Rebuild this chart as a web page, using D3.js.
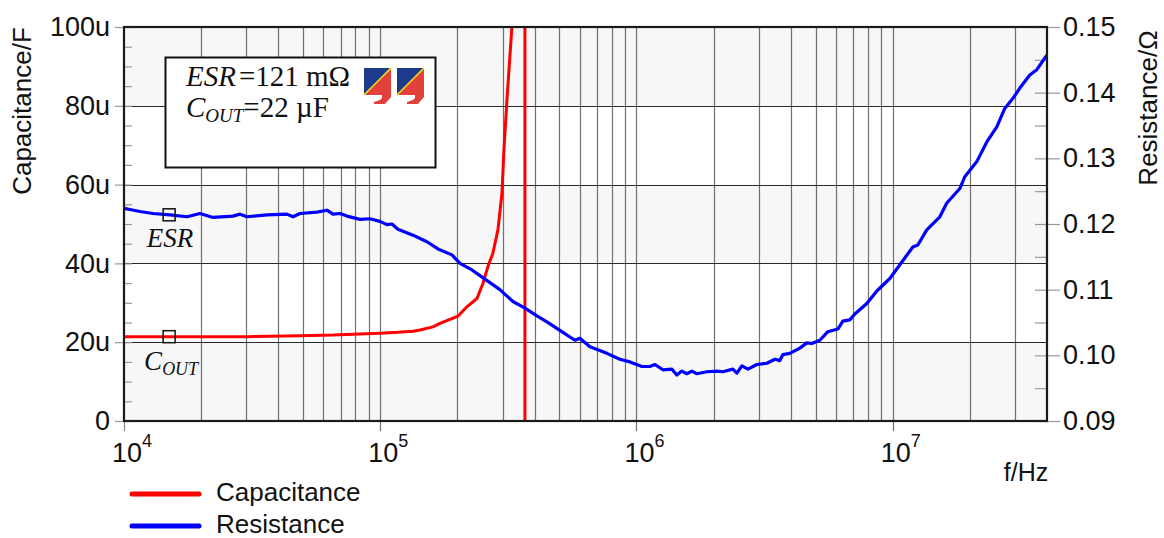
<!DOCTYPE html>
<html><head><meta charset="utf-8">
<script src="https://cdn.jsdelivr.net/npm/d3@7"></script>
<style>
body{margin:0;background:#fff;}
svg text{font-family:"Liberation Sans",Arial,sans-serif;fill:#111;}
</style>
</head><body>
<svg id="chart" width="1164" height="538"></svg>
<script>
// ---- data ----
const resFreq = [1.0e4,1.055e4,1.154e4,1.297e4,1.512e4,1.762e4,1.979e4,2.225e4,2.663e4,2.836e4,3.019e4,3.613e4,4.325e4,4.564e4,4.861e4,5.662e4,6.194e4,6.537e4,6.963e4,7.416e4,8.334e4,9.117e4,9.97e4,1.062e5,1.111e5,1.172e5,1.342e5,1.521e5,1.680e5,1.905e5,2.047e5,2.280e5,2.562e5,2.931e5,3.295e5,3.670e5,4.088e5,4.471e5,5.162e5,5.750e5,6.014e5,6.579e5,7.665e5,8.614e5,9.424e5,1.050e6,1.128e6,1.180e6,1.268e6,1.374e6,1.437e6,1.503e6,1.572e6,1.645e6,1.720e6,1.882e6,2.059e6,2.173e6,2.378e6,2.465e6,2.578e6,2.721e6,2.950e6,3.227e6,3.467e6,3.626e6,3.725e6,3.967e6,4.341e6,4.623e6,4.835e6,5.195e6,5.582e6,6.107e6,6.388e6,6.802e6,7.114e6,7.923e6,8.670e6,9.744e6,1.066e7,1.198e7,1.253e7,1.358e7,1.527e7,1.626e7,1.828e7,1.911e7,2.129e7,2.329e7,2.548e7,2.737e7,2.942e7,3.133e7,3.427e7,3.650e7,3.993e7];
const resValues = [0.1224,0.1222,0.1219,0.1216,0.1214,0.1211,0.1216,0.1210,0.1212,0.1215,0.1211,0.1214,0.1215,0.1211,0.1216,0.1218,0.1221,0.1215,0.1216,0.1212,0.1207,0.1208,0.1204,0.1199,0.1200,0.1192,0.1183,0.1173,0.1162,0.1153,0.1140,0.1130,0.1116,0.1100,0.1082,0.1072,0.1060,0.1051,0.1035,0.1023,0.1026,0.1013,0.1003,0.0994,0.0990,0.0983,0.0983,0.0986,0.0978,0.0979,0.0970,0.0976,0.0972,0.0976,0.0972,0.0975,0.0976,0.0975,0.0979,0.0973,0.0984,0.0979,0.0986,0.0988,0.0994,0.0992,0.1001,0.1003,0.1011,0.1019,0.1018,0.1023,0.1036,0.1040,0.1052,0.1054,0.1063,0.1079,0.1098,0.1117,0.1138,0.1165,0.1168,0.1191,0.1211,0.1232,0.1254,0.1272,0.1295,0.1325,0.1348,0.1376,0.1391,0.1407,0.1427,0.1435,0.1457];

// capacitance in µF; beyond resonance it is off-scale (very large, then negative)
const capFreq = [1.0e4,3.019e4,4.861e4,6.537e4,9.97e4,1.172e5,1.342e5,1.429e5,1.606e5,1.710e5,2.010e5,2.179e5,2.384e5,2.516e5,2.632e5,2.752e5,2.879e5,2.985e5,3.039e5,3.122e5,3.265e5,3.45e5,3.60e5,3.669e5,3.670e5,3.75e5,4.5e5,1.0e6,1.0e7,4.0e7];
const capValues = [21.4,21.4,21.65,21.8,22.3,22.5,22.8,23.1,23.9,24.8,26.6,29.0,31.1,34.9,39.2,42.6,48.5,57.8,68.8,81.5,100.1,200,600,3000,-3000,-900,-150,-30,-23,-22];

const capTicks = [0,20,40,60,80,100];
const capTickLabels = ["0","20u","40u","60u","80u","100u"];
const capMinorTicks = d3.range(0,101,5);
const resTicks = [0.09,0.10,0.11,0.12,0.13,0.14,0.15];
const resTickLabels = ["0.09","0.10","0.11","0.12","0.13","0.14","0.15"];
const resMinorTicks = d3.range(0,13).map(i=>+(0.09+i*0.005).toFixed(3));
const freqDecades = [1e4,1e5,1e6,1e7];
const decadeExp = ["4","5","6","7"];
const markerFreq = 1.5e4;
const markerRes = 0.1214, markerCap = 21.4;

// ---- layout ----
const L=124, R=1047, T=27, B=421;
const svg = d3.select("#chart");
const x = d3.scaleLog().domain([1e4,4e7]).range([L,R]);
const yC = d3.scaleLinear().domain([0,100]).range([B,T]);
const yR = d3.scaleLinear().domain([0.09,0.15]).range([B,T]);

svg.append("defs").append("clipPath").attr("id","clip")
  .append("rect").attr("x",L).attr("y",T).attr("width",R-L).attr("height",B-T);

// background bands
const bands = [[0,20],[40,60],[80,100]];
svg.append("g").selectAll("rect").data(bands).join("rect")
  .attr("x",L).attr("width",R-L)
  .attr("y",d=>yC(d[1])).attr("height",d=>yC(d[0])-yC(d[1]))
  .attr("fill","#f7f7f7");

// vertical grid
const vTicks = x.ticks().filter(v=>v>1e4*1.001 && v<4e7*0.999);
svg.append("g").selectAll("line").data(vTicks).join("line")
  .attr("x1",d=>Math.round(x(d))+0.5).attr("x2",d=>Math.round(x(d))+0.5)
  .attr("y1",T).attr("y2",d=>freqDecades.includes(d)?B+10:B)
  .attr("stroke","#707070").attr("stroke-width",1.2);
// decade tick at left edge
svg.append("line").attr("x1",L+0.5).attr("x2",L+0.5).attr("y1",B).attr("y2",B+10)
  .attr("stroke","#888").attr("stroke-width",1.2);

// horizontal grid
svg.append("g").selectAll("line").data(capTicks.slice(1,-1)).join("line")
  .attr("x1",L).attr("x2",R)
  .attr("y1",d=>Math.round(yC(d))+0.5).attr("y2",d=>Math.round(yC(d))+0.5)
  .attr("stroke","#2a2a2a").attr("stroke-width",1);

// left axis: major (outside) + minor (inside)
const gL = svg.append("g").attr("transform",`translate(${L},0)`)
  .call(d3.axisLeft(yC).tickValues(capTicks).tickSize(9).tickPadding(5)
    .tickFormat((d,i)=>capTickLabels[i]));
const gLm = svg.append("g").attr("transform",`translate(${L},0)`)
  .call(d3.axisRight(yC).tickValues(capMinorTicks).tickSize(8).tickFormat(""));
// right axis
const gR = svg.append("g").attr("transform",`translate(${R},0)`)
  .call(d3.axisRight(yR).tickValues(resTicks).tickSize(13).tickPadding(3)
    .tickFormat((d,i)=>resTickLabels[i]));
const gRm = svg.append("g").attr("transform",`translate(${R},0)`)
  .call(d3.axisLeft(yR).tickValues(resMinorTicks).tickSize(12).tickFormat(""));
[gL,gLm,gR,gRm].forEach(g=>{
  g.select(".domain").remove();
  g.selectAll(".tick line").attr("stroke","#999").attr("stroke-width",1.2);
  g.selectAll("text").style("font-size","27px").attr("fill","#111");
});

// curves
const lineR = d3.line().x((d,i)=>x(resFreq[i])).y(d=>yR(d));
const lineC = d3.line().x((d,i)=>x(capFreq[i])).y(d=>yC(d));
const plot = svg.append("g").attr("clip-path","url(#clip)");
plot.append("path").datum(capValues).attr("d",lineC)
  .attr("fill","none").attr("stroke","#ff0000").attr("stroke-width",3);
plot.append("path").datum(resValues).attr("d",lineR)
  .attr("fill","none").attr("stroke","#0000ff").attr("stroke-width",3.2)
  .attr("stroke-linejoin","round");

// frame
svg.append("rect").attr("x",L).attr("y",T).attr("width",R-L).attr("height",B-T)
  .attr("fill","none").attr("stroke","#1a1a1a").attr("stroke-width",2.2);

// x tick labels
const xl = svg.append("g").selectAll("text").data(freqDecades).join("text")
  .attr("x",d=>x(d)-12).attr("y",462).style("font-size","27px");
xl.append("tspan").text("10");
xl.append("tspan").attr("dy",-15).style("font-size","18px").text((d,i)=>decadeExp[i]);

// axis titles
svg.append("text").attr("transform","translate(31,111) rotate(-90)")
  .attr("text-anchor","middle").style("font-size","26px").text("Capacitance/F");
svg.append("text").attr("transform","translate(1157,108) rotate(-90)")
  .attr("text-anchor","middle").style("font-size","26px").text("Resistance/Ω");
svg.append("text").attr("x",1026).attr("y",481).attr("text-anchor","middle")
  .style("font-size","25px").text("f/Hz");

// markers
const mk = [[markerFreq,yR(markerRes)],[markerFreq,yC(markerCap)]];
svg.append("g").selectAll("rect").data(mk).join("rect")
  .attr("x",d=>x(d[0])-6).attr("y",d=>d[1]-6).attr("width",12).attr("height",12)
  .attr("fill","none").attr("stroke","#111").attr("stroke-width",1.5);
const serif = '"Liberation Serif","DejaVu Serif",serif';
svg.append("text").attr("x",x(markerFreq)+1).attr("y",247).attr("text-anchor","middle")
  .style("font-family",serif).style("font-style","italic").style("font-size","27px").text("ESR");
const co = svg.append("text").attr("x",x(markerFreq)-25).attr("y",370)
  .style("font-family",serif).style("font-style","italic").style("font-size","27px");
co.append("tspan").text("C");
co.append("tspan").attr("dy",5).style("font-size","18px").text("OUT");

// annotation box
svg.append("rect").attr("x",165.5).attr("y",57.5).attr("width",270).attr("height",110)
  .attr("fill","#fff").attr("stroke","#111").attr("stroke-width",2);
const t1 = svg.append("text").attr("x",186).attr("y",86).style("font-family",serif).style("font-size","29px");
t1.append("tspan").style("font-style","italic").text("ESR");
t1.append("tspan").attr("dx",3).text("=121 mΩ");
const t2 = svg.append("text").attr("x",186).attr("y",117).style("font-family",serif).style("font-size","29px");
t2.append("tspan").style("font-style","italic").text("C");
t2.append("tspan").attr("dy",5).style("font-style","italic").style("font-size","19px").text("OUT");
t2.append("tspan").attr("dy",-5).text("=22 µF");

// logo
function logo(x0,y0){
  const s=27, g=svg.append("g").attr("transform",`translate(${x0},${y0})`);
  g.append("polygon").attr("points",`0,0 ${s},0 0,${s}`).attr("fill","#1d3a8c");
  g.append("polygon").attr("points",`${s},0 ${s},${s} 0,${s}`).attr("fill","#e2403a");
  g.append("polygon").attr("points",`${s-9},${s} ${s},${s} ${s},${s+2} ${s-6},${s+9} ${s-17},${s+9} ${s-17},${s+7} ${s-11},${s+5} ${s-9},${s+3}`).attr("fill","#e2403a");
  g.append("line").attr("x1",0).attr("y1",s).attr("x2",s).attr("y2",0)
    .attr("stroke","#f2e21a").attr("stroke-width",1.6);
}
logo(364,68); logo(397,68);

// legend
const legend = [["Capacitance","#ff0000",494],["Resistance","#0000ff",526]];
const lg = svg.append("g").selectAll("g").data(legend).join("g");
lg.append("line").attr("x1",132).attr("x2",199).attr("y1",d=>d[2]).attr("y2",d=>d[2])
  .attr("stroke",d=>d[1]).attr("stroke-width",5).attr("stroke-linecap","round");
lg.append("text").attr("x",216).attr("y",d=>d[2]+7).style("font-size","26px").text(d=>d[0]);
</script>
</body></html>
